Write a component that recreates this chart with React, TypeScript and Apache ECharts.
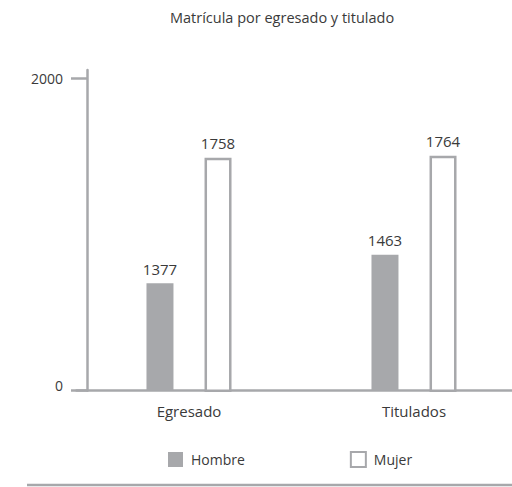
import React, { useEffect, useRef } from "react";
import * as echarts from "echarts";

const title = "Matrícula por egresado y titulado";
const categories = ["Egresado", "Titulados"];
const seriesNames = ["Hombre", "Mujer"];
const hombre = [1377, 1463];
const mujer = [1758, 1764];
const axisMin = 1050;
const axisMax = 2025;
const tickValues = [1050, 2000];
const tickLabels = ["0", "2000"];

const GRAY = "#a7a8ab";
const TEXT = "#3a3a3a";
const FONT = "'Open Sans', sans-serif";

export default function App() {
  const ref = useRef<HTMLDivElement>(null);
  useEffect(() => {
    if (!ref.current) return;
    const chart = echarts.init(ref.current, null, { renderer: "svg" });
    chart.setOption({
      animation: false,
      backgroundColor: "#ffffff",
      textStyle: { fontFamily: FONT },
      title: {
        text: title,
        left: 165,
        top: 5,
        textStyle: { fontSize: 14.5, fontWeight: "normal", color: TEXT, fontFamily: FONT },
      },
      legend: {
        data: seriesNames,
        left: 163,
        top: 446,
        icon: "rect",
        itemWidth: 15,
        itemHeight: 15,
        itemGap: 105,
        textStyle: { fontSize: 14, color: TEXT, fontFamily: FONT, padding: [0, 0, 0, 3] },
      },
      grid: {
        left: 76.5,
        top: 70,
        width: 450,
        height: 320.7,
        containLabel: false,
        outerBoundsMode: "none",
      },
      xAxis: {
        type: "category",
        data: categories,
        axisLine: { lineStyle: { color: GRAY, width: 2.5 } },
        axisTick: { show: false },
        axisLabel: { fontSize: 15, color: TEXT, margin: 13, fontFamily: FONT },
      },
      yAxis: {
        type: "value",
        min: axisMin,
        max: axisMax,
        offset: -10.5,
        splitLine: { show: false },
        axisLine: { show: true, lineStyle: { color: GRAY, width: 2.5 } },
        axisTick: {
          show: true,
          length: 16,
          customValues: tickValues,
          lineStyle: { color: GRAY, width: 2.5 },
        },
        axisLabel: {
          customValues: tickValues,
          margin: 24,
          fontSize: 14,
          color: TEXT,
          fontFamily: FONT,
          formatter: (v: number) => {
            const i = tickValues.indexOf(v);
            const t = i >= 0 ? tickLabels[i] : "";
            return i === 0 ? "{z|" + t + "}" : "{a|" + t + "}";
          },
          rich: {
            z: { fontSize: 14, color: TEXT, fontFamily: FONT, padding: [0, 0, 11, 0] },
            a: { fontSize: 14, color: TEXT, fontFamily: FONT },
          },
        },
      },
      series: [
        {
          name: seriesNames[0],
          type: "bar",
          data: hombre,
          barWidth: 27,
          barGap: "115%",
          itemStyle: { color: GRAY },
          label: { show: true, position: "top", distance: 7, fontSize: 15, color: TEXT, fontFamily: FONT },
        },
        {
          name: seriesNames[1],
          type: "bar",
          data: mujer,
          barWidth: 27,
          barGap: "115%",
          itemStyle: { color: "#ffffff", borderColor: GRAY, borderWidth: 2.5 },
          label: { show: true, position: "top", distance: 7, fontSize: 15, color: TEXT, fontFamily: FONT },
        },
      ],
      graphic: [
        {
          type: "line",
          shape: { x1: 27, y1: 485, x2: 512, y2: 485 },
          style: { stroke: GRAY, lineWidth: 2.5 },
        },
      ],
    });
    return () => chart.dispose();
  }, []);
  return <div ref={ref} style={{ width: 512, height: 487, position: "absolute", left: 0, top: 0 }} />;
}
